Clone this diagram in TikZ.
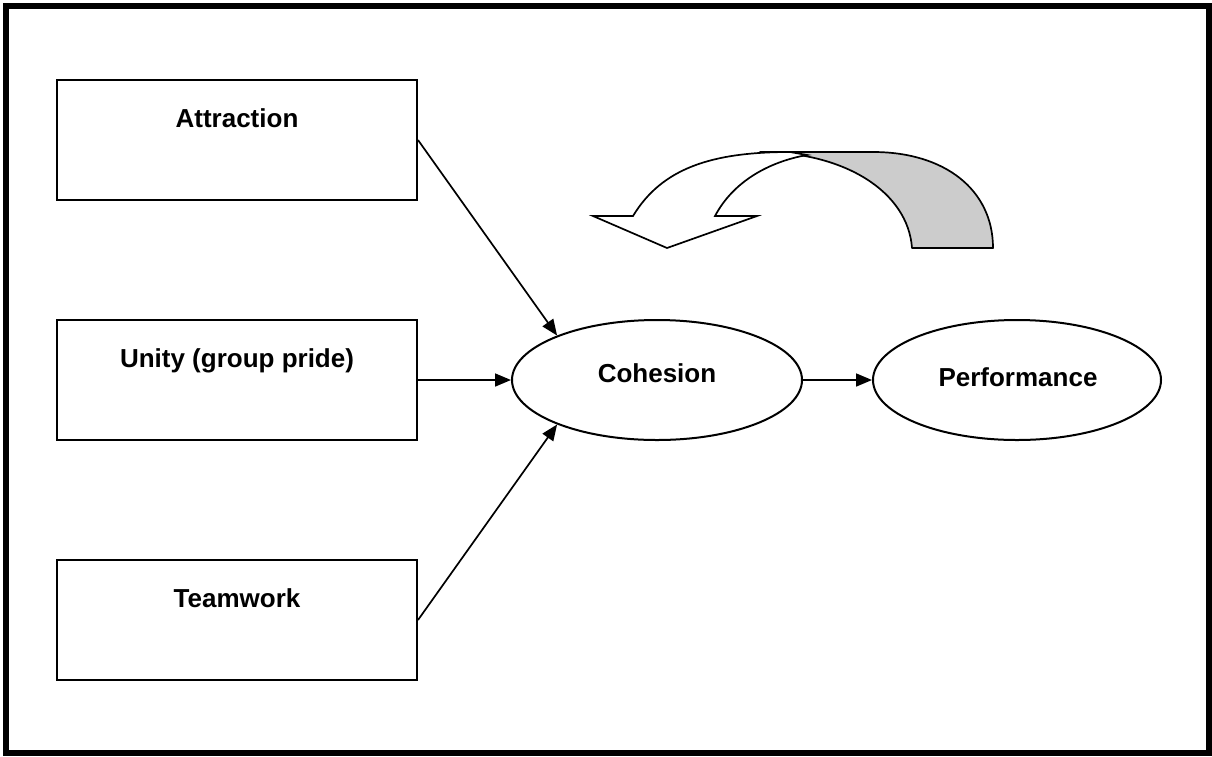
\documentclass[tikz,border=0pt]{standalone}
\usepackage{fontspec}
\setmainfont{Liberation Sans}
\usetikzlibrary{arrows.meta,shapes.geometric}
\begin{document}
\begin{tikzpicture}[x=1pt,y=-1pt,
  line width=2pt,
  factor/.style={draw, rectangle, minimum width=360pt, minimum height=120pt, inner sep=0pt},
  oval/.style={draw, ellipse, minimum width=290pt, minimum height=120pt, inner sep=0pt},
  caption/.style={font=\fontsize{26}{30}\selectfont\bfseries, inner sep=0pt, anchor=base},
  link/.style={-{Triangle[length=16pt,width=13pt]}, line width=1.7pt}
]
\useasboundingbox (0,0) rectangle (1212,756);
\draw[line width=6pt] (6,5.5) rectangle (1209,753);

% factor boxes
\node[factor] (attr) at (237,140) {};
\node[factor] (unity) at (237,380) {};
\node[factor] (team) at (237,620) {};
\node[caption] (attrT) at (237,127) {Attraction};
\node[caption] (unityT) at (237,367) {Unity (group pride)};
\node[caption] (teamT) at (237,607) {Teamwork};

% outcome ellipses
\node[oval] (coh) at (657,380) {};
\node[oval, minimum width=288pt] (perf) at (1017,380) {};
\node[caption] (cohT) at (657,382) {Cohesion};
\node[caption] (perfT) at (1018,386) {Performance};

% connectors
\draw[link] (attr.east) -- (coh.156);
\draw[link] (unity.east) -- (coh.west);
\draw[link] (team.east) -- (coh.204);
\draw[link] (coh.east) -- (perf.west);

% curved feedback arrow: grey back face, then white front face
\draw[fill=black!20, line width=1.7pt, line join=round]
  (760,152) -- (873,152) .. controls (945,152) and (993,190) .. (993,248)
  -- (912,248) .. controls (908,192) and (845,152) .. (760,152) -- cycle;
\draw[fill=white, line width=1.7pt, line join=miter]
  (593,216) -- (633,216) .. controls (662,168) and (712,152) .. (790,152)
  -- (807,155) .. controls (768,162) and (733,182) .. (715,216)
  -- (757,216) -- (667,248) -- cycle;
\end{tikzpicture}
\end{document}
